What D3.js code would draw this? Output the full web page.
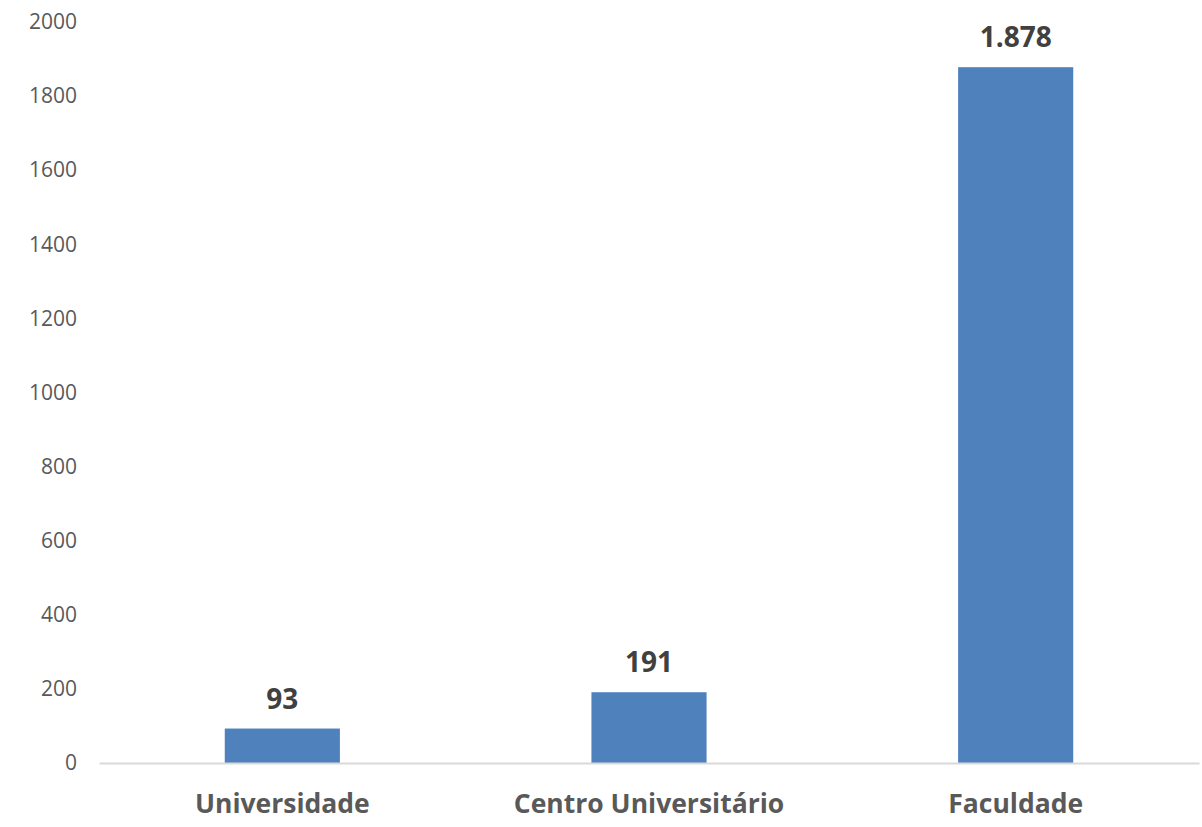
<!DOCTYPE html>
<html><head><meta charset="utf-8">
<script src="https://cdn.jsdelivr.net/npm/d3@7"></script>
<style>body{margin:0;background:#fff}svg{display:block}</style>
</head><body>
<svg id="c" width="1202" height="827"></svg>
<script>
const categories = ["Universidade", "Centro Universitário", "Faculdade"];
const values = [93, 191, 1878];
const valueLabels = ["93", "191", "1.878"];
const yTicks = [0, 200, 400, 600, 800, 1000, 1200, 1400, 1600, 1800, 2000];

const svg = d3.select("#c");
const x = d3.scaleBand().domain(categories).range([99, 1199]).paddingInner(0.686).paddingOuter(0.343);
const y = d3.scaleLinear().domain([0, 2000]).range([763, 22]);

// y axis labels
const yAxis = d3.axisLeft(y).tickValues(yTicks).tickSize(0).tickPadding(0).tickFormat(d3.format("d"));
const gy = svg.append("g").attr("transform", "translate(77,0)").call(yAxis);
gy.select(".domain").remove();
gy.selectAll("text").attr("font-family", "Open Sans").attr("font-size", 21).attr("fill", "#595959");

// bars
svg.selectAll("rect.bar").data(values).join("rect").attr("class", "bar")
  .attr("x", (d, i) => x(categories[i])).attr("width", x.bandwidth())
  .attr("y", d => y(d)).attr("height", d => y(0) - y(d)).attr("fill", "#4F81BD");

// baseline axis
const xAxis = d3.axisBottom(x).tickSize(0).tickPadding(0);
const gx = svg.append("g").attr("transform", `translate(0,${y(0)})`).call(xAxis);
gx.select(".domain").attr("stroke", "#D9D9D9").attr("stroke-width", 2);
gx.selectAll("text").attr("dy", null).attr("y", 50)
  .attr("font-family", "Open Sans").attr("font-weight", "bold").attr("font-size", 26.5).attr("fill", "#595959");

// value labels
svg.selectAll("text.val").data(values).join("text").attr("class", "val")
  .attr("x", (d, i) => x(categories[i]) + x.bandwidth() / 2).attr("y", d => y(d) - 20)
  .attr("text-anchor", "middle").attr("font-family", "Open Sans").attr("font-weight", "bold")
  .attr("font-size", 28).attr("fill", "#404040").text((d, i) => valueLabels[i]);
</script>
</body></html>
